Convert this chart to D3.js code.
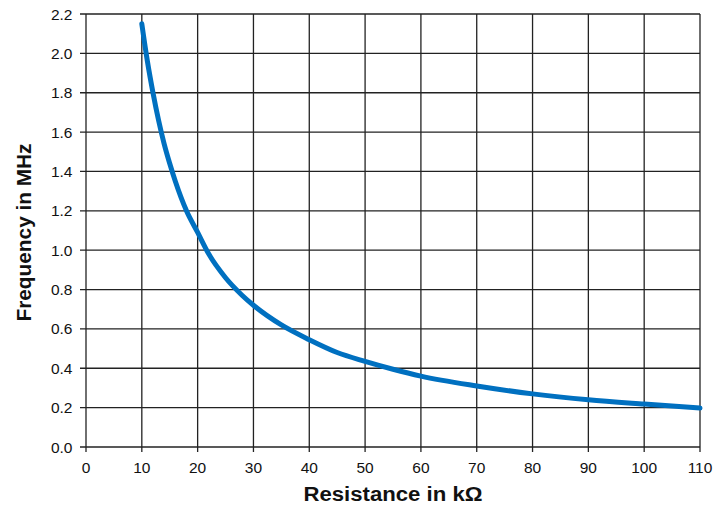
<!DOCTYPE html>
<html><head><meta charset="utf-8">
<script src="https://cdn.jsdelivr.net/npm/d3@7"></script>
<style>body{margin:0;background:#fff;} svg{display:block;font-family:"Liberation Sans",Arial,sans-serif;}</style>
</head><body><svg id="c" width="725" height="506"></svg>
<script>
const resistance = [10, 11, 12, 13, 14, 15, 16, 18, 20, 22, 25, 28, 30, 35, 40, 45, 50, 55, 60, 70, 80, 90, 100, 110];
const frequency  = [2.15, 1.96, 1.80, 1.66, 1.54, 1.44, 1.35, 1.20, 1.09, 0.98, 0.86, 0.77, 0.72, 0.62, 0.545, 0.48, 0.435, 0.395, 0.36, 0.31, 0.27, 0.24, 0.218, 0.198];
const xTicks = [0,10,20,30,40,50,60,70,80,90,100,110];
const yTicks = [0,0.2,0.4,0.6,0.8,1.0,1.2,1.4,1.6,1.8,2.0,2.2];

const svg = d3.select("#c");
const L=86, R=700, T=14, B=447;
const x = d3.scaleLinear().domain([0,110]).range([L,R]);
const y = d3.scaleLinear().domain([0,2.2]).range([B,T]);

// grid
svg.append("g").selectAll("line").data(xTicks).join("line")
  .attr("x1",d=>x(d)).attr("x2",d=>x(d)).attr("y1",T).attr("y2",B+5)
  .attr("stroke","#222").attr("stroke-width",1.3);
svg.append("g").selectAll("line").data(yTicks).join("line")
  .attr("x1",L-6).attr("x2",R).attr("y1",d=>y(d)).attr("y2",d=>y(d))
  .attr("stroke","#222").attr("stroke-width",1.3);

// tick labels
svg.append("g").selectAll("text").data(xTicks).join("text")
  .attr("x",d=>x(d)).attr("y",472.5).attr("text-anchor","middle")
  .attr("font-size",15.5).attr("fill","#111").text(d=>d);
svg.append("g").selectAll("text").data(yTicks).join("text")
  .attr("x",72.5).attr("y",d=>y(d)+5.5).attr("text-anchor","end")
  .attr("font-size",15.5).attr("fill","#111").text(d=>d.toFixed(1));

// titles
svg.append("text").attr("x",393).attr("y",501).attr("text-anchor","middle")
  .attr("font-size",20).attr("font-weight","bold").attr("fill","#111")
  .attr("textLength",179).attr("lengthAdjust","spacingAndGlyphs").text("Resistance in kΩ");
svg.append("text").attr("transform","translate(31,232.5) rotate(-90)").attr("text-anchor","middle")
  .attr("font-size",20).attr("font-weight","bold").attr("fill","#111")
  .attr("textLength",178).attr("lengthAdjust","spacingAndGlyphs").text("Frequency in MHz");

// curve
const pts = resistance.map((r,i)=>[r,frequency[i]]);
svg.append("path").datum(pts)
  .attr("d", d3.line().x(d=>x(d[0])).y(d=>y(d[1])).curve(d3.curveMonotoneX))
  .attr("fill","none").attr("stroke","#0070c0").attr("stroke-width",5).attr("stroke-linecap","round");
</script></body></html>
